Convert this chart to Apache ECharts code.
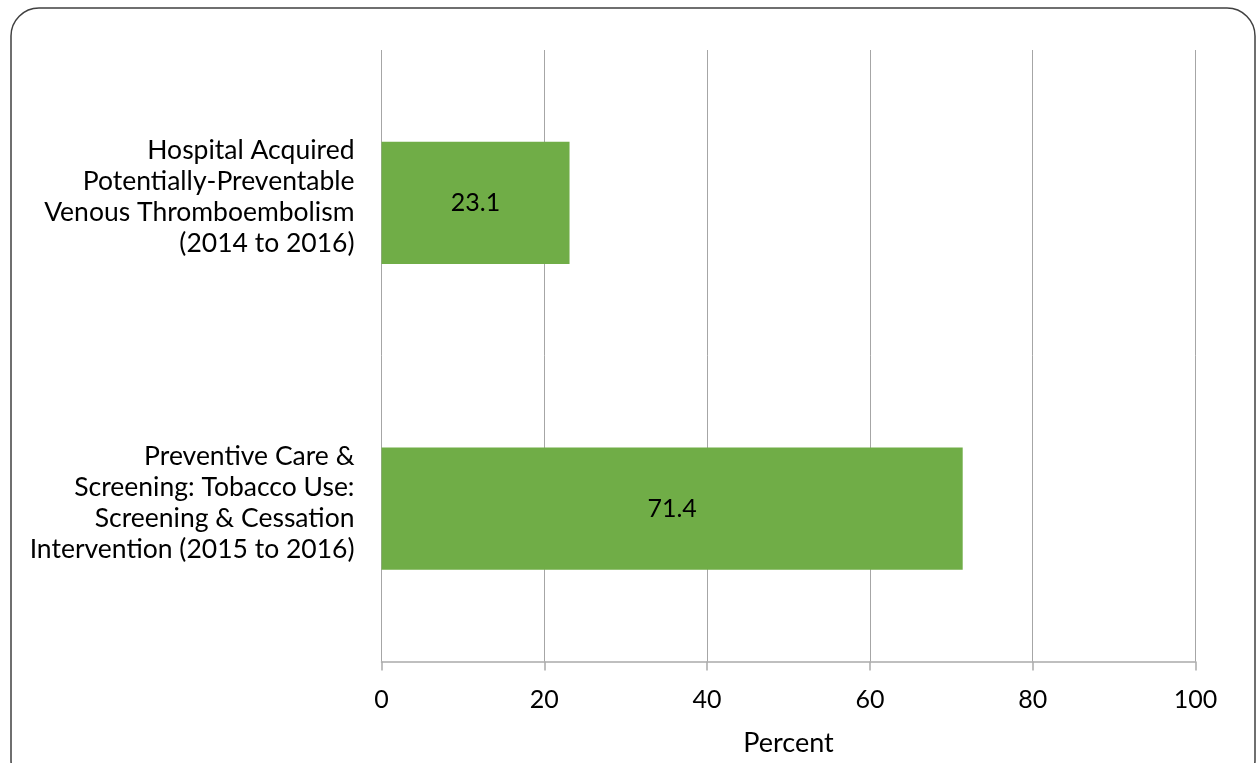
<!DOCTYPE html>
<html>
<head>
<meta charset="utf-8">
<script src="https://cdn.jsdelivr.net/npm/echarts@6/dist/echarts.min.js"></script>
<style>
html,body{margin:0;padding:0;background:#fff;}
#chart{width:1257px;height:763px;}
</style>
</head>
<body>
<div id="chart"></div>
<script>
const categories = [
  "Hospital Acquired\nPotentially-Preventable\nVenous Thromboembolism\n(2014 to 2016)",
  "Preventive Care &\nScreening: Tobacco Use:\nScreening & Cessation\nIntervention (2015 to 2016)"
];
const values = [23.1, 71.4];
const xTicks = [0, 20, 40, 60, 80, 100];
const xAxisName = "Percent";

const FONT = "Lato";
const chart = echarts.init(document.getElementById('chart'));
chart.setOption({
  animation: false,
  backgroundColor: '#ffffff',
  textStyle: { fontFamily: FONT },
  graphic: [{
    type: 'rect',
    shape: { x: 11, y: 8, width: 1244, height: 780, r: 28 },
    style: { fill: 'none', stroke: '#404040', lineWidth: 1.5 },
    silent: true, z: -1
  }],
  grid: { left: 381.5, right: 61.5, top: 50, bottom: 101.5, containLabel: false },
  xAxis: {
    type: 'value',
    min: xTicks[0], max: xTicks[xTicks.length - 1], interval: 20,
    name: xAxisName, nameLocation: 'middle', nameGap: 68,
    nameTextStyle: { fontFamily: FONT, fontSize: 27, color: '#000' },
    axisLine: { show: true, lineStyle: { color: '#aaaaaa', width: 1.5 } },
    axisTick: { show: true, length: 9, lineStyle: { color: '#aaaaaa', width: 1.5 } },
    axisLabel: { fontFamily: FONT, fontSize: 25, color: '#000', margin: 26 },
    splitLine: { show: true, lineStyle: { color: '#a6a6a6', width: 1 } }
  },
  yAxis: {
    type: 'category',
    data: categories,
    inverse: true,
    axisLine: { show: false },
    axisTick: { show: false },
    axisLabel: {
      margin: 27, align: 'right',
      formatter: v => v.split('\n').map(s => '{a|' + s + '}').join('\n') + '\n{g| }',
      rich: {
        a: { fontFamily: FONT, fontSize: 26.5, color: '#000', lineHeight: 31, align: 'right' },
        g: { fontSize: 2, lineHeight: 11 }
      }
    }
  },
  series: [{
    type: 'bar',
    data: values,
    barWidth: '40%',
    itemStyle: { color: '#70AD47' },
    label: { show: true, position: 'inside', color: '#000', fontFamily: FONT, fontSize: 25,
      formatter: p => p.value.toFixed(1) }
  }]
});
</script>
</body>
</html>
